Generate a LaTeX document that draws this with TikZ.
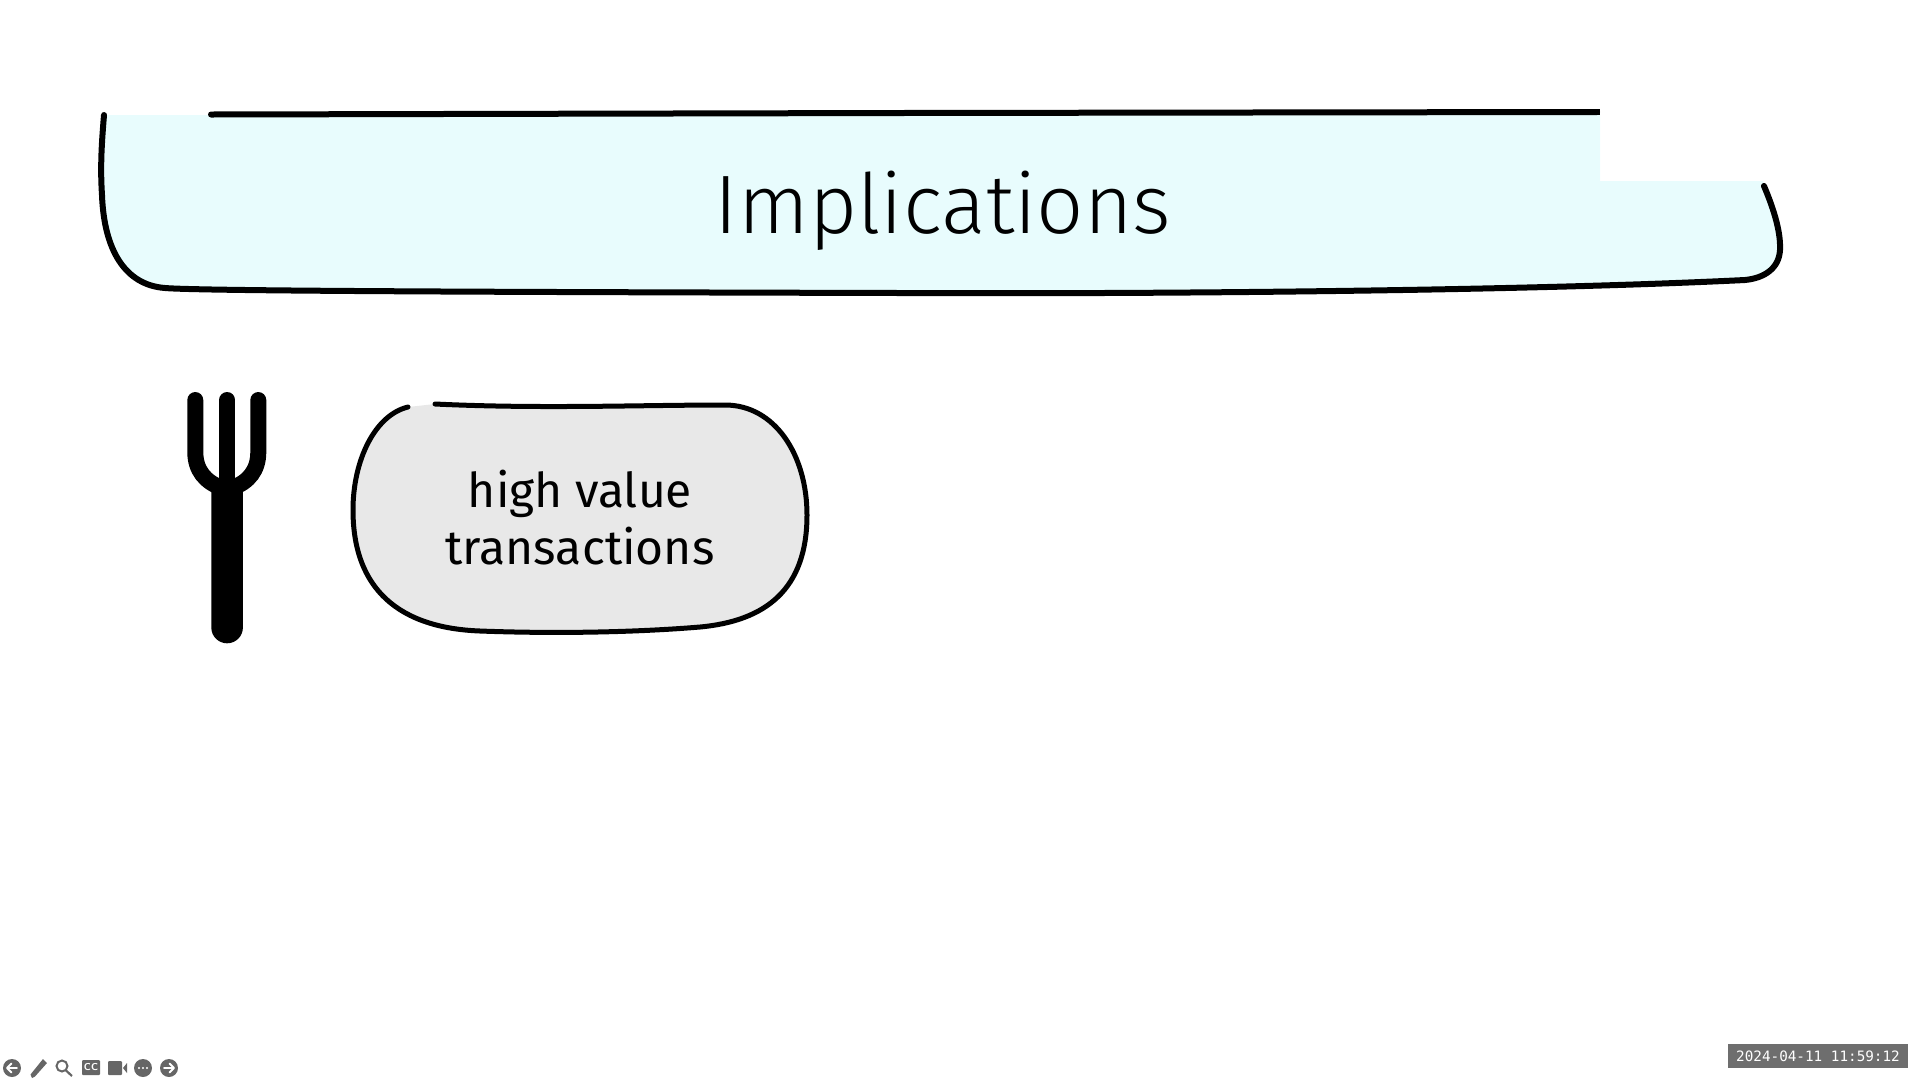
\documentclass[tikz,border=0pt]{standalone}
\usepackage{fontspec}
\setmainfont{Fira Sans}
\newfontfamily\titlefont{Fira Sans}[UprightFont=* Light]
\newfontfamily\stampfont{DejaVu Sans Mono}
\definecolor{titlefill}{HTML}{E8FCFD}
\definecolor{pillfill}{HTML}{E8E8E8}
\definecolor{barcol}{HTML}{666666}
\definecolor{stampcol}{HTML}{6E6E6E}
\tikzset{
  sketch/.style={line width=6pt,line cap=round,line join=round,black},
  pillsketch/.style={line width=5pt,line cap=round,line join=round,black},
  tine/.style={line width=16pt,line cap=round,black},
  toolicon/.style={barcol},
  toolarrow/.style={white,line width=1.8pt,line cap=round,line join=round},
}
\begin{document}
\begin{tikzpicture}[x=1pt,y=-1pt]
\useasboundingbox (0,0) rectangle (1920,1080);
% title band fill
\fill[titlefill] (104,115) -- (1600,115) -- (1600,181) -- (1763,181)
  .. controls (1772,205) and (1781,230) .. (1780,250)
  .. controls (1779,268) and (1765,278) .. (1745,280)
  .. controls (1500,292) and (1100,294) .. (900,293)
  .. controls (500,292) and (200,291) .. (165,288)
  .. controls (125,285) and (104,250) .. (102,195)
  .. controls (100,165) and (102,140) .. (104,115) -- cycle;
% title outline pieces
\draw[sketch] (104,115)
  .. controls (102,140) and (100,165) .. (102,195)
  .. controls (104,250) and (125,285) .. (165,288)
  .. controls (200,291) and (500,292) .. (900,293)
  .. controls (1100,294) and (1500,292) .. (1745,280)
  .. controls (1765,278) and (1779,268) .. (1780,250)
  .. controls (1781,230) and (1772,205) .. (1764,186);
\draw[sketch] (211,114.5) -- (900,113) -- (1597,112);
\fill[black] (1595,109) rectangle (1600,115);
\node[font=\titlefont\fontsize{83}{83}\selectfont,anchor=base,inner sep=0pt] (title) at (943,233) {Implications};
% fork
\draw[tine] (195.3,400) -- (195.3,452) .. controls (195.3,470) and (205,482) .. (222,488);
\draw[tine] (258.3,400) -- (258.3,452) .. controls (258.3,470) and (249,482) .. (232,488);
\draw[tine] (227.3,400) -- (227.3,495);
\fill[black] (211.3,490) -- (242.9,490) -- (242.9,627.5)
  arc[start angle=0,end angle=180,radius=15.8] -- cycle;
% pill
\fill[pillfill] (408,407) .. controls (375,415) and (353,460) .. (353,510)
  .. controls (353,590) and (400,628) .. (480,631)
  .. controls (560,634) and (640,632) .. (700,627)
  .. controls (765,621) and (807,590) .. (807,515)
  .. controls (807,455) and (775,405) .. (725,405)
  -- (435,404) -- cycle;
\draw[pillsketch] (408,407) .. controls (375,415) and (353,460) .. (353,510)
  .. controls (353,590) and (400,628) .. (480,631)
  .. controls (560,634) and (640,632) .. (700,627)
  .. controls (765,621) and (807,590) .. (807,515)
  .. controls (807,455) and (775,405) .. (725,405)
  .. controls (640,405) and (540,409) .. (435,404);
\node[font=\fontsize{48}{57}\selectfont,anchor=base,inner sep=0pt] (line1) at (580,507) {high value};
\node[font=\fontsize{48}{57}\selectfont,anchor=base,inner sep=0pt] (line2) at (580,564) {transactions};
% toolbar
\fill[toolicon] (12,1068) circle[radius=9];
\draw[toolarrow] (17,1068) -- (7.5,1068) (11.5,1063.5) -- (7,1068) -- (11.5,1072.5);
\fill[toolicon] (30.5,1074.5) -- (32,1078) -- (35,1076.5) -- (47,1063) -- (43,1059) -- cycle;
\draw[barcol,line width=2pt] (62,1066) circle[radius=5.5];
\draw[barcol,line width=2.2pt] (66,1070.5) -- (72,1076);
\fill[toolicon,rounded corners=1pt] (82,1060) rectangle (100,1075);
\node[font=\sffamily\bfseries\fontsize{10}{10}\selectfont,white,inner sep=0pt] (cc) at (91,1067.5) {CC};
\fill[toolicon,rounded corners=1pt] (108,1061) rectangle (122,1075);
\fill[toolicon] (123,1068) -- (127,1063) -- (127,1073) -- cycle;
\fill[toolicon] (143,1068) circle[radius=9];
\fill[white] (139,1068) circle[radius=1.2] (143,1068) circle[radius=1.2] (147,1068) circle[radius=1.2];
\fill[toolicon] (169,1068) circle[radius=9];
\draw[toolarrow] (164,1068) -- (173.5,1068) (169.5,1063.5) -- (174,1068) -- (169.5,1072.5);
% timestamp
\fill[stampcol] (1728,1044) rectangle (1908,1068);
\node[font=\stampfont\fontsize{14.3}{14.3}\selectfont,white,anchor=center,inner sep=0pt] (stamp) at (1818,1056.5) {2024-04-11 11:59:12};
\end{tikzpicture}
\end{document}
